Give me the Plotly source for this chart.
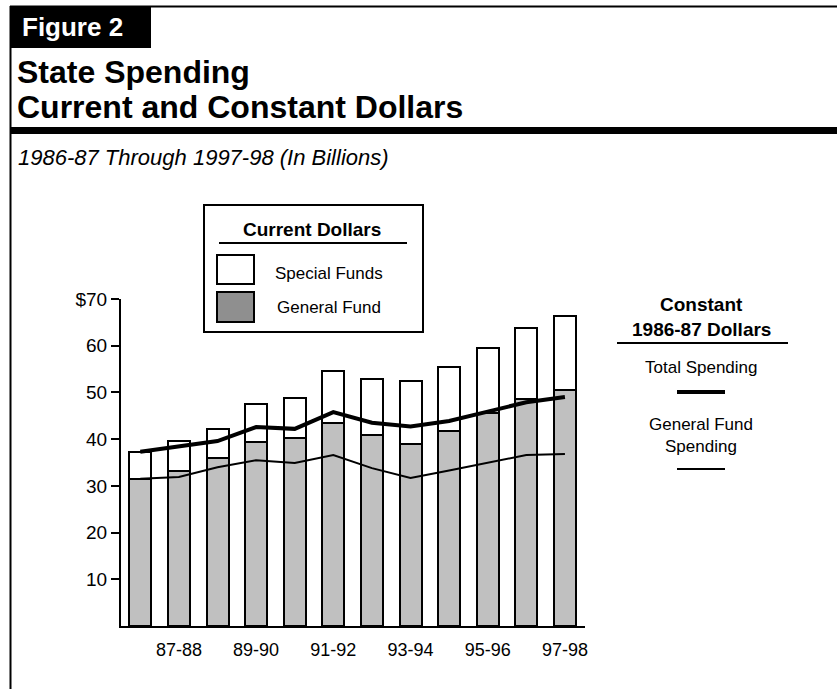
import plotly.graph_objects as go

# Canvas size in pixels
W, H = 837, 689

# ---- data (billions of dollars) ----
years = ["86-87", "87-88", "88-89", "89-90", "90-91", "91-92",
         "92-93", "93-94", "94-95", "95-96", "96-97", "97-98"]
tick_years = ["87-88", "89-90", "91-92", "93-94", "95-96", "97-98"]

total_current = [37.3, 39.6, 42.2, 47.5, 48.8, 54.6, 52.9, 52.5, 55.5, 59.5, 63.8, 66.4]
general_current = [31.5, 33.2, 36.0, 39.4, 40.3, 43.5, 40.9, 38.9, 41.7, 45.6, 48.7, 50.5]
special_current = [round(t - g, 1) for t, g in zip(total_current, general_current)]

total_constant = [37.3, 38.5, 39.6, 42.6, 42.2, 45.8, 43.5, 42.7, 43.9, 45.9, 47.9, 49.0]
general_constant = [31.5, 31.9, 34.0, 35.5, 34.9, 36.6, 33.8, 31.7, 33.3, 35.0, 36.6, 36.8]

y_ticks = [10, 20, 30, 40, 50, 60, 70]
y_tick_text = ["10", "20", "30", "40", "50", "60", "$70"]

FONT = "Liberation Sans, Arial, Helvetica, sans-serif"
BAR_GRAY = "#c0c0c0"
SWATCH_GRAY = "#8f8f8f"


def px(x):
    return x / W


def py(y):
    return 1 - y / H


fig = go.Figure()

fig.add_trace(go.Bar(
    x=years, y=general_current, name="General Fund",
    marker=dict(color=BAR_GRAY, line=dict(color="black", width=2)),
    width=0.57,
))
fig.add_trace(go.Bar(
    x=years, y=special_current, name="Special Funds",
    marker=dict(color="white", line=dict(color="black", width=2)),
    width=0.57,
))
fig.add_trace(go.Scatter(
    x=years, y=total_constant, mode="lines", name="Total Spending",
    line=dict(color="black", width=4),
))
fig.add_trace(go.Scatter(
    x=years, y=general_constant, mode="lines", name="General Fund Spending",
    line=dict(color="black", width=2),
))

shapes = []


def hline(x0, x1, y, w=2):
    shapes.append(dict(type="line", xref="paper", yref="paper",
                       x0=px(x0), x1=px(x1), y0=py(y), y1=py(y),
                       line=dict(color="black", width=w)))


def vline(x, y0, y1, w=2):
    shapes.append(dict(type="line", xref="paper", yref="paper",
                       x0=px(x), x1=px(x), y0=py(y0), y1=py(y1),
                       line=dict(color="black", width=w)))


def rect(x0, y0, x1, y1, fill, lw=0):
    shapes.append(dict(type="rect", xref="paper", yref="paper",
                       x0=px(x0), x1=px(x1), y0=py(y0), y1=py(y1),
                       fillcolor=fill,
                       line=dict(color="black", width=lw)))


# page frame and header
vline(10.5, 6, H, 2)
hline(10, W, 6.5, 2)
rect(10, 6, 151, 48, "black")
rect(10, 127, W, 134, "black")

# current-dollar key
rect(204, 205, 423, 332, "rgba(0,0,0,0)", 2)
hline(219, 407, 243, 2)
rect(217, 255, 254, 284, "white", 2)
rect(217, 292, 254, 322, SWATCH_GRAY, 2)

# constant-dollar key
hline(617, 788, 343, 2)
hline(677, 725, 392, 4)
hline(677, 725, 469, 2)

annotations = []


def text(s, x, y, size, anchor="left", bold=False, italic=False, color="black"):
    if bold:
        s = "<b>" + s + "</b>"
    if italic:
        s = "<i>" + s + "</i>"
    annotations.append(dict(text=s, xref="paper", yref="paper",
                            x=px(x), y=py(y), xanchor=anchor, yanchor="middle",
                            showarrow=False,
                            font=dict(family=FONT, size=size, color=color)))


text("Figure 2", 20, 27, 26, bold=True, color="white")
text("State Spending", 15, 72, 32, bold=True)
text("Current and Constant Dollars", 15, 107, 32, bold=True)
text("1986-87 Through 1997-98 (In Billions)", 16, 157, 22, italic=True)

text("Current Dollars", 312, 229, 19, anchor="center", bold=True)
text("Special Funds", 273, 273, 17)
text("General Fund", 275, 307, 17)

text("Constant", 701, 305, 19, anchor="center", bold=True)
text("1986-87 Dollars", 701, 330, 19, anchor="center", bold=True)
text("Total Spending", 701, 367, 17, anchor="center")
text("General Fund", 701, 424, 17, anchor="center")
text("Spending", 701, 446, 17, anchor="center")

fig.update_layout(
    width=W, height=H,
    margin=dict(l=0, r=0, t=0, b=0, pad=0, autoexpand=False),
    paper_bgcolor="white", plot_bgcolor="white",
    barmode="stack", showlegend=False,
    font=dict(family=FONT, color="black"),
    shapes=shapes, annotations=annotations,
    xaxis=dict(
        domain=[px(121), px(585)],
        type="category", categoryorder="array", categoryarray=years,
        range=[-0.5, 11.52],
        tickmode="array", tickvals=tick_years, ticktext=tick_years,
        ticks="", showline=True, linecolor="black", linewidth=2,
        showgrid=False, zeroline=False, automargin=False,
        tickfont=dict(size=18, family=FONT, color="black"),
        ticklabelstandoff=6,
    ),
    yaxis=dict(
        domain=[py(626), py(299)],
        range=[0, 70],
        tickmode="array", tickvals=y_ticks, ticktext=y_tick_text,
        ticks="outside", ticklen=8, tickwidth=2, tickcolor="black",
        showline=True, linecolor="black", linewidth=2,
        showgrid=False, zeroline=False, automargin=False,
        tickfont=dict(size=19, family=FONT, color="black"),
    ),
)

fig.write_html("out.html")
